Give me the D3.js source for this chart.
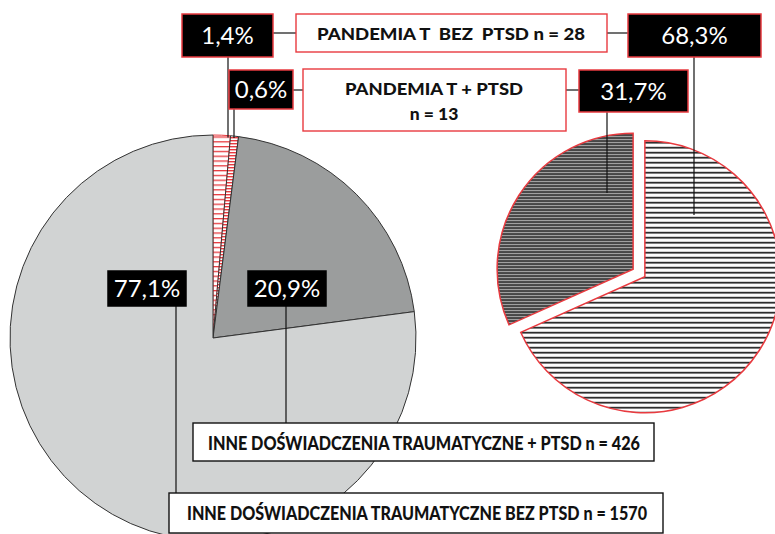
<!DOCTYPE html>
<html><head><meta charset="utf-8">
<script src="https://cdn.jsdelivr.net/npm/d3@7"></script>
<style>html,body{margin:0;padding:0;background:#fff;}svg{display:block;}</style>
</head><body>
<svg id="chart" width="775" height="534"></svg>
<script>
// ---- data ----
const leftCategories = ["PANDEMIA T BEZ PTSD", "PANDEMIA T + PTSD", "INNE DOŚWIADCZENIA TRAUMATYCZNE + PTSD", "INNE DOŚWIADCZENIA TRAUMATYCZNE BEZ PTSD"];
const leftCounts = [28, 13, 426, 1570];
const leftLabels = ["1,4%", "0,6%", "20,9%", "77,1%"];
const rightCategories = ["PANDEMIA T BEZ PTSD", "PANDEMIA T + PTSD"];
const rightCounts = [28, 13];
const rightLabels = ["68,3%", "31,7%"];
const legendTexts = ["PANDEMIA T  BEZ  PTSD n = 28", ["PANDEMIA T + PTSD", "n = 13"], "INNE DOŚWIADCZENIA TRAUMATYCZNE + PTSD n = 426", "INNE DOŚWIADCZENIA TRAUMATYCZNE BEZ PTSD n = 1570"];

// ---- layout ----
const svg = d3.select("#chart");
const RED = "#e83a3f";
const defs = svg.append("defs");
function hatch(id, period, lineW, lineColor, bg) {
  const p = defs.append("pattern").attr("id", id).attr("patternUnits", "userSpaceOnUse")
    .attr("width", 10).attr("height", period);
  p.append("rect").attr("width", 10).attr("height", period).attr("fill", bg);
  p.append("rect").attr("y", 0).attr("width", 10).attr("height", lineW).attr("fill", lineColor);
}
hatch("hRed", 4.8, 1.3, RED, "#fff");
hatch("hRedDense", 3, 1.4, RED, "#fff");
hatch("hBlack", 5, 1.7, "#222", "#fff");
hatch("hDense", 3, 1.8, "#333", "#b4b4b4");

const leftFills = ["url(#hRed)", "url(#hRedDense)", "#9b9d9d", "#d1d3d3"];
const leftStrokes = [RED, "#333", "#333", "#333"];
const rightFills = ["url(#hBlack)", "url(#hDense)"];

const L = {cx: 213, cy: 338, r: 203};
const R = {cx: 639, cy: 273, r: 136, explode: 7};

const pie = d3.pie().sort(null).value(d => d);
const leftArcs = pie(leftCounts);
const arcL = d3.arc().innerRadius(0).outerRadius(L.r);
svg.append("g").attr("transform", `translate(${L.cx},${L.cy})`)
  .selectAll("path").data(leftArcs).join("path")
  .attr("d", arcL)
  .attr("fill", (d, i) => leftFills[i])
  .attr("stroke", (d, i) => leftStrokes[i])
  .attr("stroke-width", 1)
  .attr("stroke-linejoin", "round");

const rightArcs = pie(rightCounts);
const arcR = d3.arc().innerRadius(0).outerRadius(R.r);
svg.append("g").attr("transform", `translate(${R.cx},${R.cy})`)
  .selectAll("path").data(rightArcs).join("path")
  .attr("transform", d => {
    const a = (d.startAngle + d.endAngle) / 2;
    return `translate(${Math.sin(a) * R.explode},${-Math.cos(a) * R.explode})`;
  })
  .attr("d", arcR)
  .attr("fill", (d, i) => rightFills[i])
  .attr("stroke", RED)
  .attr("stroke-width", 1.5);

// connector lines
const lines = svg.append("g").attr("stroke", "#111").attr("stroke-width", 1.2);
function edgeY(x) { return L.cy - Math.sqrt(L.r * L.r - (x - L.cx) ** 2); }
const conn = [
  [228, 57, 228, edgeY(228) + 2],
  [234, 109, 234, edgeY(234) + 2],
  [273, 33, 296, 33],
  [607, 33, 628, 33],
  [293, 90, 303, 90],
  [566, 90, 579, 90],
  [694, 57, 694, 215],
  [607, 112, 607, 193],
  [176, 306, 176, 493],
  [286, 306, 286, 423]
];
conn.forEach(c => lines.append("line").attr("x1", c[0]).attr("y1", c[1]).attr("x2", c[2]).attr("y2", c[3]));

// percent boxes
const pctBoxes = [
  {t: leftLabels[0], x: 182, y: 14, w: 91, h: 43, red: true},
  {t: leftLabels[1], x: 229, y: 70, w: 64, h: 39, red: true},
  {t: rightLabels[0], x: 628, y: 14, w: 133, h: 43, red: true},
  {t: rightLabels[1], x: 579, y: 70, w: 109, h: 42, red: true},
  {t: leftLabels[3], x: 108, y: 271, w: 78, h: 35, red: false},
  {t: leftLabels[2], x: 248, y: 271, w: 78, h: 35, red: false}
];
pctBoxes.forEach(b => {
  svg.append("rect").attr("x", b.x).attr("y", b.y).attr("width", b.w).attr("height", b.h)
    .attr("fill", "#000").attr("stroke", b.red ? RED : "#000").attr("stroke-width", 1.5);
  svg.append("text").attr("x", b.x + b.w / 2).attr("y", b.y + b.h / 2 + 8.5)
    .attr("text-anchor", "middle").attr("fill", "#fff")
    .attr("font-family", "Lato, 'Open Sans', sans-serif").attr("font-size", 24)
    .text(b.t);
});

// legend boxes
const legBoxes = [
  {x: 296, y: 14, w: 311, h: 38, stroke: RED, lines: [legendTexts[0]], ty: [39.5], tl: [268], cx: 451, fs: 17.5},
  {x: 303, y: 69, w: 263, h: 62, stroke: RED, lines: legendTexts[1], ty: [94.5, 119.5], tl: [178, 0], cx: 434, fs: 17.5},
  {x: 193, y: 423, w: 461, h: 38, stroke: "#111", lines: [legendTexts[2]], ty: [449.5], tl: [432], cx: 424, fs: 18.5},
  {x: 169, y: 493, w: 494, h: 40, stroke: "#111", lines: [legendTexts[3]], ty: [520], tl: [460], cx: 417, fs: 18.5}
];
legBoxes.forEach(b => {
  svg.append("rect").attr("x", b.x).attr("y", b.y).attr("width", b.w).attr("height", b.h)
    .attr("fill", "#fff").attr("stroke", b.stroke).attr("stroke-width", 1.4);
  b.lines.forEach((ln, i) => {
    const t = svg.append("text").attr("x", b.cx).attr("y", b.ty[i])
      .attr("text-anchor", "middle").attr("fill", "#111")
      .attr("font-family", "Lato, 'Open Sans', sans-serif").attr("font-weight", 900)
      .attr("font-size", b.fs).attr("xml:space", "preserve").style("white-space", "pre")
      .text(ln);
    if (b.tl[i]) t.attr("textLength", b.tl[i]).attr("lengthAdjust", "spacingAndGlyphs");
  });
});
</script>
</body></html>
